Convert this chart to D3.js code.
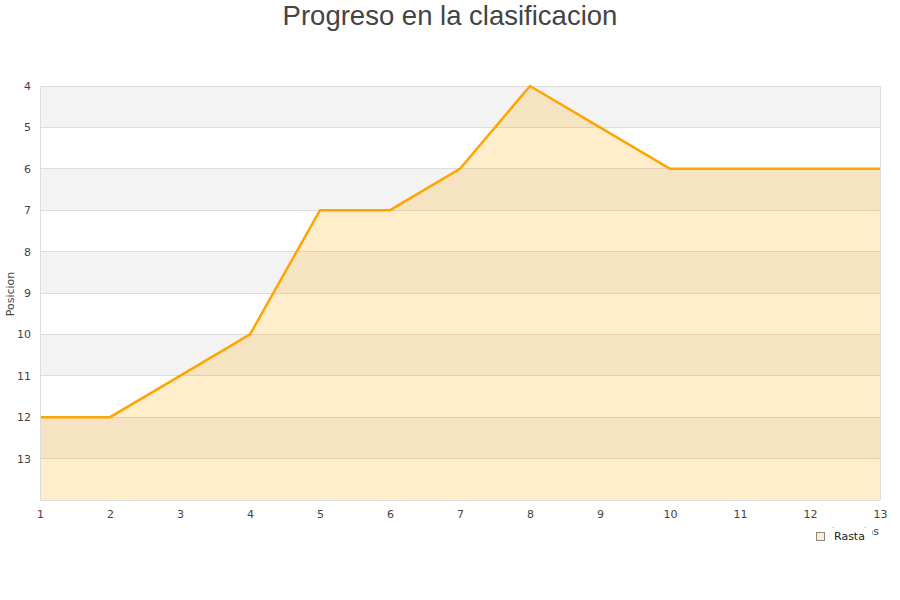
<!DOCTYPE html>
<html><head><meta charset="utf-8">
<script src="https://cdn.jsdelivr.net/npm/d3@7/dist/d3.min.js"></script>
<style>body{margin:0;background:#fff}svg{display:block}</style>
</head><body>
<svg id="c" width="900" height="600"></svg>
<script>
const title = "Progreso en la clasificacion";
const jornadas = [1,2,3,4,5,6,7,8,9,10,11,12,13];
const posicion = [12,12,11,10,7,7,6,4,5,6,6,6,6];
const yTicks = [4,5,6,7,8,9,10,11,12,13];
const seriesName = "Rasta";
const yTitle = "Posicion";
const xTitle = "Jornadas";

const svg = d3.select("#c");
const L=40,R=880,T=86,B=500;
const x = d3.scaleLinear().domain([1,13]).range([L,R]);
const y = d3.scaleLinear().domain([4,14]).range([T,B]);
const font = "DejaVu Sans, Verdana, sans-serif";

for (let v=4; v<14; v++){
  svg.append("rect").attr("x",L).attr("y",y(v)).attr("width",R-L).attr("height",y(v+1)-y(v))
    .attr("fill",(v%2===0)?"#f3f3f3":"#ffffff");
}
yTicks.forEach(v=>{
  svg.append("line").attr("x1",L).attr("x2",R).attr("y1",y(v)).attr("y2",y(v))
    .attr("stroke","#dddddd").attr("stroke-width",1).attr("shape-rendering","crispEdges");
});
const data = jornadas.map((j,i)=>({j, p:posicion[i]}));
svg.append("path").datum(data)
  .attr("d", d3.area().x(d=>x(d.j)).y0(y(14)).y1(d=>y(d.p)))
  .attr("fill","rgba(255,165,0,0.2)");
svg.append("path").datum(data)
  .attr("d", d3.line().x(d=>x(d.j)).y(d=>y(d.p)))
  .attr("fill","none").attr("stroke","#ffa500").attr("stroke-width",2.5);

svg.append("line").attr("x1",L).attr("x2",L).attr("y1",T).attr("y2",B).attr("stroke","#dddddd").attr("shape-rendering","crispEdges");
svg.append("line").attr("x1",R).attr("x2",R).attr("y1",T).attr("y2",B).attr("stroke","#dddddd").attr("shape-rendering","crispEdges");
svg.append("line").attr("x1",L).attr("x2",R).attr("y1",B).attr("y2",B).attr("stroke","#dddddd").attr("shape-rendering","crispEdges");

const yAxis = d3.axisLeft(y).tickValues(yTicks).tickSize(0).tickPadding(0).tickFormat(d3.format("d"));
const ga = svg.append("g").attr("transform",`translate(${L-9},0)`).call(yAxis);
ga.select(".domain").remove();
ga.selectAll("text").attr("font-family",font).attr("font-size",11).attr("fill","#444").attr("dy","0.32em");

const xAxis = d3.axisBottom(x).tickValues(jornadas).tickSize(0).tickPadding(0).tickFormat(d3.format("d"));
const gx = svg.append("g").attr("transform",`translate(0,${B+10})`).call(xAxis);
gx.select(".domain").remove();
gx.selectAll("text").attr("font-family",font).attr("font-size",11).attr("fill","#444").attr("dy","0.71em");

svg.append("text").attr("x",450).attr("y",25).attr("text-anchor","middle")
  .attr("font-family","Liberation Sans, Arial, sans-serif").attr("font-size",27.5).attr("fill","#444").text(title);

svg.append("text").attr("transform","translate(14,294) rotate(-90)").attr("text-anchor","middle")
  .attr("font-family",font).attr("font-size",11).attr("fill","#444").text(yTitle);

svg.append("text").attr("x",879).attr("y",535).attr("text-anchor","end")
  .attr("font-family",font).attr("font-size",11).attr("fill","#444").text(xTitle);

const lg = svg.append("g");
lg.append("rect").attr("x",808).attr("y",527.5).attr("width",64).attr("height",18).attr("fill","#fff");
lg.append("rect").attr("x",816.5).attr("y",532.5).attr("width",8).attr("height",8)
  .attr("fill","#ffedcc").attr("stroke","#888").attr("stroke-width",1);
lg.append("text").attr("x",834).attr("y",540).attr("font-family",font).attr("font-size",11).attr("fill","#222").text(seriesName);
</script>
</body></html>
